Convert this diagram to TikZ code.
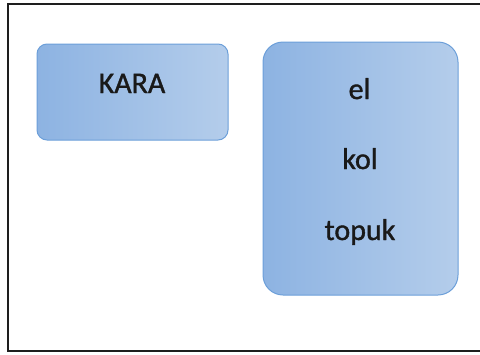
\documentclass[tikz,border=0pt]{standalone}
\usepackage{fontspec}
\setmainfont{Carlito}[FakeBold=1.2]
\usepackage{tikz}
\usetikzlibrary{positioning}
\definecolor{boxleft}{HTML}{8DB3E2}
\definecolor{boxright}{HTML}{B4CDEB}
\definecolor{boxedge}{HTML}{6C9FD9}
\definecolor{framegray}{HTML}{1E1E1E}

\begin{document}
\begin{tikzpicture}[
  x=1pt, y=-1pt,
  box/.style={rectangle, rounded corners=10pt, draw=boxedge, line width=1pt,
              left color=boxleft, right color=boxright, inner sep=0pt},
  tallbox/.style={box, rounded corners=20pt},
  word/.style={font=\fontsize{30}{34}\selectfont\color{black!90}, inner sep=0pt, anchor=base}
]
  \useasboundingbox (0,0) rectangle (480,354);
  \draw[framegray, line width=1.8pt] (8,4) rectangle (481,351);

  \node[box, minimum width=191pt, minimum height=96pt] (kara) at (132.5,92) {};
  \node[tallbox, minimum width=195pt, minimum height=253pt] (parts) at (360.5,168.5) {};

  \node[word] (karaword) at (132,93) {KARA};
  \node[word] (el) at (359.5,99) {el};
  \node[word] (kol) at (360,169) {kol};
  \node[word] (topuk) at (360,240) {topuk};
\end{tikzpicture}
\end{document}
